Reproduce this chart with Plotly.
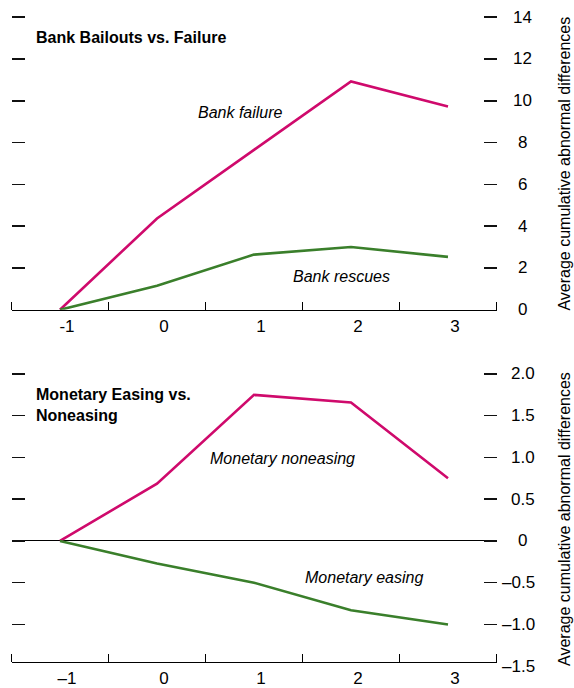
import plotly.graph_objects as go

# ---------------- data ----------------
periods = [-1, 0, 1, 2, 3]
xlabels_top = ["-1", "0", "1", "2", "3"]
xlabels_bottom = ["\u20131", "0", "1", "2", "3"]

bank_failure = [0, 4.37, 7.65, 10.92, 9.73]
bank_rescues = [0, 1.15, 2.64, 3.00, 2.53]

monetary_noneasing = [0, 0.685, 1.747, 1.655, 0.75]
monetary_easing = [0, -0.27, -0.50, -0.83, -1.00]

yticks_top = [0, 2, 4, 6, 8, 10, 12, 14]
yticklabels_top = ["0", "2", "4", "6", "8", "10", "12", "14"]
yticks_bottom = [2.0, 1.5, 1.0, 0.5, 0, -0.5, -1.0, -1.5]
yticklabels_bottom = ["2.0", "1.5", "1.0", "0.5", "0", "\u20130.5", "\u20131.0", "\u20131.5"]

title_top = "Bank Bailouts vs. Failure"
title_bottom = "Monetary Easing vs.<br>Noneasing"
ytitle = "Average cumulative abnormal differences"

# ---------------- style ----------------
W, H = 574, 688
MAGENTA = "#CF0A6C"
GREEN = "#3A7F2B"
FONT = "Liberation Sans, Arial, sans-serif"
FS_TICK = 17
FS_TXT = 16

def px_x(p):
    return p / W

def px_y(p):
    return 1 - p / H

def domain_for(v1, p1, v2, p2, lo, hi):
    # pixel positions p1, p2 (from top) for values v1, v2 -> domain for range [lo, hi]
    k = (p1 - p2) / (v2 - v1)  # px per unit
    p_lo = p1 + (v1 - lo) * k
    p_hi = p1 - (hi - v1) * k
    return [px_y(p_lo), px_y(p_hi)]

xdom = [px_x(11.5), px_x(496.5)]
top_range = [0, 14.12]
bot_range = [-1.445, 2.03]
top_dom = domain_for(0, 312.5, 14, 17.3, *top_range)
bot_dom = domain_for(-1.445, 667.5, 2.0, 377.0, *bot_range)

fig = go.Figure()
fig.add_trace(go.Scatter(x=periods, y=bank_failure, mode="lines",
                         line=dict(color=MAGENTA, width=2.6), xaxis="x", yaxis="y",
                         showlegend=False, hoverinfo="skip"))
fig.add_trace(go.Scatter(x=periods, y=bank_rescues, mode="lines",
                         line=dict(color=GREEN, width=2.6), xaxis="x", yaxis="y",
                         showlegend=False, hoverinfo="skip"))
fig.add_trace(go.Scatter(x=periods, y=monetary_noneasing, mode="lines",
                         line=dict(color=MAGENTA, width=2.6), xaxis="x2", yaxis="y2",
                         showlegend=False, hoverinfo="skip"))
fig.add_trace(go.Scatter(x=periods, y=monetary_easing, mode="lines",
                         line=dict(color=GREEN, width=2.6), xaxis="x2", yaxis="y2",
                         showlegend=False, hoverinfo="skip"))

half_ticks = [p - 0.5 for p in periods] + [periods[-1] + 0.5]

def xaxis_cfg(anchor, labels):
    return dict(
        domain=xdom, anchor=anchor, range=[-1.5, 3.5],
        showgrid=False, zeroline=False, showline=True, linecolor="black", linewidth=1.5,
        tickmode="array", tickvals=periods, ticktext=labels, ticks="",
        ticklabelshift=7, ticklabelstandoff=0,
        tickfont=dict(family=FONT, size=FS_TICK, color="black"),
        minor=dict(tickmode="array", tickvals=half_ticks, ticks="inside", ticklen=8,
                   tickcolor="black", tickwidth=1.5, showgrid=False),
        fixedrange=True,
    )

def yaxis_cfg(anchor, dom, rng, vals, zl):
    return dict(
        domain=dom, anchor=anchor, range=rng, side="right",
        showgrid=False, zeroline=zl, zerolinecolor="black", zerolinewidth=1.2,
        showline=False, mirror="ticks",
        tickmode="array", tickvals=vals, ticks="inside", ticklen=13,
        tickcolor="#111111", tickwidth=1.6, showticklabels=False,
        fixedrange=True,
    )

fig.update_layout(
    width=W, height=H, margin=dict(l=0, r=0, t=0, b=0),
    paper_bgcolor="white", plot_bgcolor="white",
    font=dict(family=FONT, size=FS_TXT, color="black"),
    xaxis=xaxis_cfg("y", xlabels_top),
    yaxis=yaxis_cfg("x", top_dom, top_range, yticks_top, False),
    xaxis2=xaxis_cfg("y2", xlabels_bottom),
    yaxis2=yaxis_cfg("x2", bot_dom, bot_range,
                     [v for v in yticks_bottom if bot_range[0] <= v <= bot_range[1]], True),
)

ann = []
# y tick labels (positioned through each axis' domain fraction so out-of-range labels still show)
def frac(v, rng):
    return (v - rng[0]) / (rng[1] - rng[0])

for v, t in zip(yticks_top, yticklabels_top):
    ann.append(dict(x=px_x(522.5), xref="paper", y=frac(v, top_range), yref="y domain", text=t,
                    showarrow=False, xanchor="center", yanchor="middle",
                    font=dict(family=FONT, size=FS_TICK)))
for v, t in zip(yticks_bottom, yticklabels_bottom):
    if t == "0":
        xa, xp = "center", 522.5
    else:
        xa, xp = "right", 537
    ann.append(dict(x=px_x(xp), xref="paper", y=frac(v, bot_range), yref="y2 domain", text=t,
                    showarrow=False, xanchor=xa, yanchor="middle",
                    font=dict(family=FONT, size=FS_TICK)))

# y-axis titles
ann.append(dict(x=px_x(565), xref="paper", y=px_y(165), yref="paper", text=ytitle,
                textangle=-90, showarrow=False, xanchor="center", yanchor="middle",
                font=dict(family=FONT, size=FS_TXT)))
ann.append(dict(x=px_x(565), xref="paper", y=px_y(523.5), yref="paper", text=ytitle,
                textangle=-90, showarrow=False, xanchor="center", yanchor="middle",
                font=dict(family=FONT, size=FS_TXT)))

# panel titles
ann.append(dict(x=px_x(34), xref="paper", y=px_y(38), yref="paper", text="<b>%s</b>" % title_top,
                showarrow=False, xanchor="left", yanchor="middle", align="left",
                font=dict(family=FONT, size=FS_TXT)))
ann.append(dict(x=px_x(34), xref="paper", y=px_y(408.5), yref="paper", text="<b>%s</b>" % title_bottom,
                showarrow=False, xanchor="left", yanchor="middle", align="left",
                font=dict(family=FONT, size=FS_TXT)))

# series labels
ann.append(dict(x=0.856, xref="x", y=9.44, yref="y", text="<i>Bank failure</i>",
                showarrow=False, xanchor="center", yanchor="middle", font=dict(family=FONT, size=FS_TXT)))
ann.append(dict(x=1.897, xref="x", y=1.59, yref="y", text="<i>Bank rescues</i>",
                showarrow=False, xanchor="center", yanchor="middle", font=dict(family=FONT, size=FS_TXT)))
ann.append(dict(x=1.294, xref="x2", y=0.99, yref="y2", text="<i>Monetary noneasing</i>",
                showarrow=False, xanchor="center", yanchor="middle", font=dict(family=FONT, size=FS_TXT)))
ann.append(dict(x=2.13, xref="x2", y=-0.44, yref="y2", text="<i>Monetary easing</i>",
                showarrow=False, xanchor="center", yanchor="middle", font=dict(family=FONT, size=FS_TXT)))

fig.update_layout(annotations=ann)
fig.write_html(
    "out.html",
    config={"displayModeBar": False, "staticPlot": True},
    post_script="document.body.style.margin='0';document.documentElement.style.overflow='hidden';",
)
